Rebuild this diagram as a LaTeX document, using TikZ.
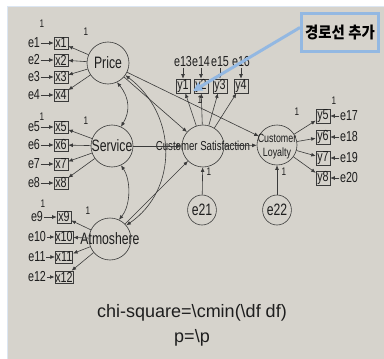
\documentclass[tikz,border=0pt]{standalone}
\usepackage{fontspec}
\setmainfont{Liberation Sans}
\newfontfamily\narrowsans[FakeStretch=0.74]{Liberation Sans}
\newfontfamily\kofont[FakeStretch=0.9]{Noto Sans CJK KR}
\usetikzlibrary{arrows.meta,shapes.geometric}
\definecolor{panel}{HTML}{D6D3CC}
\definecolor{ink}{HTML}{3A3A3A}
\definecolor{txt}{HTML}{1E1E1E}
\definecolor{callblue}{HTML}{93B8E2}
\definecolor{edgeblue}{HTML}{DCE6F2}
\tikzset{
  lat/.style={circle,draw=ink,line width=0.6pt,minimum size=42pt,inner sep=0pt},
  latlbl/.style={font=\narrowsans\fontsize{16.5}{16.5}\selectfont,text=txt,inner sep=0pt},
  smalllat/.style={font=\narrowsans\fontsize{13}{13}\selectfont,text=txt,inner sep=0pt},
  obs/.style={rectangle,draw=ink,line width=0.6pt,minimum width=14pt,minimum height=12pt,inner sep=0.5pt,
              font=\narrowsans\fontsize{14.5}{14.5}\selectfont,text=txt},
  errlbl/.style={inner sep=0.5pt,font=\narrowsans\fontsize{14.5}{14.5}\selectfont,text=txt},
  errcirc/.style={ellipse,draw=ink,line width=0.6pt,minimum width=26pt,minimum height=30pt,inner sep=0pt,
              font=\narrowsans\fontsize{16.5}{16.5}\selectfont,text=txt},
  one/.style={inner sep=0pt,font=\narrowsans\fontsize{11}{11}\selectfont,text=txt},
  path/.style={draw=ink,line width=0.6pt,-{Latex[length=4.5pt,width=3.8pt]}},
  cov/.style={draw=ink,line width=0.6pt,{Latex[length=4.5pt,width=3.8pt]}-{Latex[length=4.5pt,width=3.8pt]}},
  fitline/.style={inner sep=0pt,font=\fontsize{18}{18}\selectfont,text=txt}
}
\begin{document}
\begin{tikzpicture}[x=1pt,y=-1pt]
% canvas and grey panel
\fill[white] (0,0) rectangle (384,359);
\useasboundingbox (0,0) rectangle (384,359);
\fill[panel] (8,7) rectangle (384,359);
\draw[edgeblue,line width=1pt] (7.5,359) -- (7.5,6.5) -- (384,6.5);

% latent variables
\node[lat,label={[latlbl]center:Price}] (price) at (108,63) {};
\node[lat,label={[latlbl]center:Service}] (service) at (112,146) {};
\node[lat,label={[latlbl]center:Atmoshere}] (atmo) at (110,239) {};
\node[lat,label={[smalllat]center:Customer Satisfaction}] (cs) at (203,146) {};
\node[lat,minimum size=40pt] (cl) at (277,145) {};
\node[smalllat,font=\narrowsans\fontsize{12}{12}\selectfont] (cltop) at (277,138.5) {Customer};
\node[smalllat,font=\narrowsans\fontsize{12}{12}\selectfont] (clbot) at (277,153) {Loyalty};

% disturbances
\node[errcirc] (e21) at (202,210) {e21};
\node[errcirc] (e22) at (277,210) {e22};

% indicators of Price
\foreach \i/\y in {1/43,2/60,3/77,4/95}{
  \node[obs] (x\i) at (61,\y) {x\i};
  \node[errlbl] (e\i) at (34,\y) {e\i};
  \draw[path] (e\i) -- (x\i);
  \draw[path] (price) -- (x\i);
}
% indicators of Service
\foreach \i/\y in {5/127,6/145,7/164,8/183}{
  \node[obs] (x\i) at (61,\y) {x\i};
  \node[errlbl] (e\i) at (34,\y) {e\i};
  \draw[path] (e\i) -- (x\i);
  \draw[path] (service) -- (x\i);
}
% indicators of Atmoshere
\foreach \i/\y in {9/217,10/237,11/257,12/277}{
  \node[obs] (x\i) at (64,\y) {x\i};
  \node[errlbl] (e\i) at (37,\y) {e\i};
  \draw[path] (e\i) -- (x\i);
  \draw[path] (atmo) -- (x\i);
}
% indicators of Customer Satisfaction
\foreach \i/\x/\e in {1/183/13,2/201/14,3/220/15,4/241/16}{
  \node[obs] (y\i) at (\x,86) {y\i};
  \node[errlbl] (e\e) at (\x,62) {e\e};
  \draw[path] (e\e) -- (y\i);
  \draw[path] (cs) -- (y\i);
}
% indicators of Customer Loyalty
\foreach \i/\y/\e in {5/116/17,6/137/18,7/158/19,8/178/20}{
  \node[obs] (y\i) at (323,\y) {y\i};
  \node[errlbl] (e\e) at (349,\y) {e\e};
  \draw[path] (e\e) -- (y\i);
  \draw[path] (cl) -- (y\i);
}

% structural paths
\draw[path] (price) -- (cs);
\draw[path] (service) -- (cs);
\draw[path] (atmo) -- (cs);
\draw[path] (cs) -- (cl);
\draw[path] (price) -- (cl);
\draw[path] (e21) -- (cs);
\draw[path] (e22) -- (cl);

% covariances among exogenous factors
\draw[cov] (price.-65) .. controls (130,98) and (130,112) .. (service.65);
\draw[cov] (service.-65) .. controls (131,180) and (131,205) .. (atmo.65);
\draw[cov] (price.-35) .. controls (178,115) and (178,190) .. (atmo.40);

% fixed weights
\node[one] at (42,24) {1};
\node[one] at (86,32) {1};
\node[one] at (42,117) {1};
\node[one] at (86,121) {1};
\node[one] at (43,204) {1};
\node[one] at (88,211) {1};
\node[one] at (200,100) {1};
\node[one] at (297,112) {1};
\node[one] at (334,101) {1};
\node[one] at (209,172) {1};
\node[one] at (284,172) {1};

% callout for the added path
\node[draw=callblue,line width=3pt,fill=panel,minimum width=77pt,minimum height=38pt,inner sep=0pt,
      font=\kofont\bfseries\fontsize{16}{16}\selectfont,text=black] (note) at (340,32.5) {경로선 추가};
\coordinate (tip) at (193,91);
\draw[callblue,line width=3pt,-{Triangle[length=9pt,width=9pt]}] ([yshift=5pt]note.west) -- (tip);

% fit summary
\node[fitline] (chi) at (192,313) {chi-square=\textbackslash cmin(\textbackslash df df)};
\node[fitline] (pval) at (192,338) {p=\textbackslash p};
\end{tikzpicture}
\end{document}
